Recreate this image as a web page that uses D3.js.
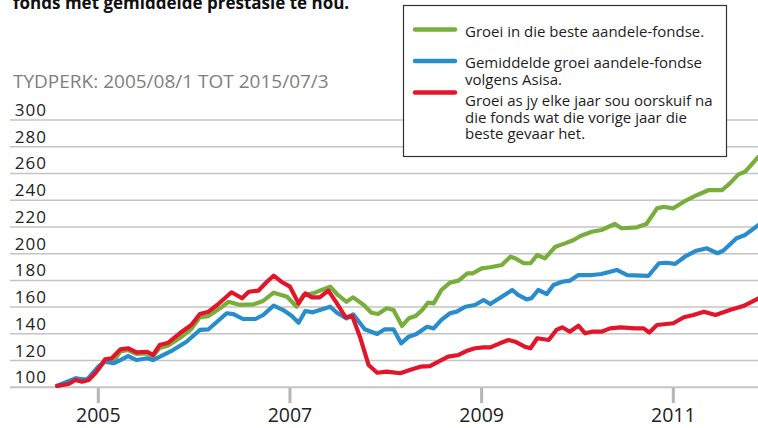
<!DOCTYPE html>
<html>
<head>
<meta charset="utf-8">
<script src="https://cdn.jsdelivr.net/npm/d3@7"></script>
<style>
  body { margin: 0; background: #fff; }
  svg { display: block; }
  text { font-family: "Open Sans", "DejaVu Sans", sans-serif; }
</style>
</head>
<body>
<svg></svg>
<script>
var width = 758;
var height = 428;

// tick labels
var yTicks = [100, 120, 140, 160, 180, 200, 220, 240, 260, 280, 300];
var xTicks = [2005, 2007, 2009, 2011];

// legend
var legendLabels = [
  ["Groei in die beste aandele-fondse."],
  ["Gemiddelde groei aandele-fondse", "volgens Asisa."],
  ["Groei as jy elke jaar sou oorskuif na", "die fonds wat die vorige jaar die", "beste gevaar het."]
];
var colors = ["#79ae3d", "#2a8dcb", "#e1162b"];

// green: best equity funds
var bestYears = [2004.57, 2004.69, 2004.76, 2004.88, 2005.00, 2005.07, 2005.16, 2005.23, 2005.31, 2005.40,
  2005.51, 2005.57, 2005.64, 2005.73, 2005.85, 2005.97, 2006.06, 2006.15, 2006.27, 2006.36,
  2006.48, 2006.62, 2006.72, 2006.83, 2006.97, 2007.07, 2007.14, 2007.24, 2007.33, 2007.42,
  2007.49, 2007.59, 2007.66, 2007.77, 2007.85, 2007.92, 2008.01, 2008.08, 2008.17, 2008.24,
  2008.31, 2008.38, 2008.44, 2008.50, 2008.58, 2008.67, 2008.76, 2008.85, 2008.91, 2009.00,
  2009.09, 2009.21, 2009.30, 2009.35, 2009.44, 2009.51, 2009.58, 2009.66, 2009.77, 2009.87,
  2009.96, 2010.03, 2010.15, 2010.25, 2010.39, 2010.46, 2010.62, 2010.72, 2010.83, 2010.90,
  2011.00, 2011.11, 2011.25, 2011.37, 2011.51, 2011.59, 2011.68, 2011.75, 2011.89];
var bestValues = [101, 103.2, 106.6, 105.5, 113.7, 119.7, 119.7, 126.8, 127.9, 124.9,
  125.3, 123.0, 129.4, 131.3, 136.9, 143.6, 152.4, 153.3, 159.1, 164.0,
  161.6, 162.1, 164.6, 170.8, 167.8, 160.3, 169.1, 170.3, 172.8, 175.3,
  169.8, 164.0, 167.3, 161.6, 155.8, 154.8, 159.1, 157.8, 145.9, 151.6,
  153.3, 157.8, 163.3, 162.8, 172.8, 178.3, 179.8, 185.3, 185.3, 189.0,
  189.8, 191.5, 197.7, 196.5, 192.8, 192.8, 199.0, 196.5, 205.2, 207.7,
  210.2, 213.2, 216.4, 217.7, 222.2, 219.0, 219.7, 222.2, 233.9, 235.1,
  233.9, 238.9, 243.9, 247.6, 247.6, 252.6, 259.3, 261.3, 272.5];

// blue: average equity fund growth (Asisa)
var avgYears = [2004.57, 2004.76, 2004.88, 2005.00, 2005.07, 2005.16, 2005.23, 2005.31, 2005.40, 2005.51,
  2005.57, 2005.68, 2005.78, 2005.92, 2006.06, 2006.15, 2006.34, 2006.41, 2006.51, 2006.64,
  2006.72, 2006.83, 2006.93, 2007.02, 2007.09, 2007.16, 2007.24, 2007.31, 2007.42, 2007.49,
  2007.59, 2007.66, 2007.78, 2007.91, 2007.99, 2008.08, 2008.16, 2008.24, 2008.32, 2008.43,
  2008.50, 2008.58, 2008.67, 2008.74, 2008.83, 2008.93, 2009.02, 2009.09, 2009.21, 2009.32,
  2009.38, 2009.47, 2009.52, 2009.59, 2009.68, 2009.75, 2009.84, 2009.92, 2010.01, 2010.15,
  2010.25, 2010.41, 2010.52, 2010.74, 2010.85, 2010.93, 2011.02, 2011.12, 2011.24, 2011.35,
  2011.46, 2011.52, 2011.66, 2011.75, 2011.89];
var avgValues = [101.2, 106.7, 105.5, 115.4, 119.2, 118.0, 120.4, 123.4, 120.4, 121.7,
  120.4, 124.2, 127.9, 134.1, 142.9, 143.4, 155.4, 154.8, 151.1, 151.1,
  154.1, 161.1, 157.8, 153.3, 148.3, 157.1, 156.1, 157.8, 160.3, 155.8,
  151.6, 154.6, 143.4, 139.9, 143.4, 143.4, 132.9, 137.9, 139.9, 145.3,
  144.1, 150.4, 155.4, 156.6, 160.3, 161.6, 165.3, 162.3, 167.8, 172.8,
  169.1, 165.8, 166.6, 172.8, 169.8, 176.5, 179.0, 179.8, 184.0, 184.0,
  184.8, 187.8, 184.0, 183.3, 192.8, 193.2, 192.3, 197.7, 202.2, 204.0,
  200.3, 202.2, 211.5, 214.0, 221.5];

// red: switching each year to last year's best fund
var switchYears = [2004.57, 2004.69, 2004.76, 2004.83, 2004.90, 2004.97, 2005.02, 2005.07, 2005.14, 2005.23,
  2005.31, 2005.40, 2005.51, 2005.57, 2005.64, 2005.73, 2005.85, 2005.97, 2006.06, 2006.15,
  2006.24, 2006.39, 2006.50, 2006.57, 2006.67, 2006.76, 2006.83, 2006.91, 2007.00, 2007.09,
  2007.16, 2007.23, 2007.31, 2007.40, 2007.49, 2007.58, 2007.65, 2007.73, 2007.82, 2007.91,
  2008.01, 2008.15, 2008.25, 2008.36, 2008.46, 2008.55, 2008.65, 2008.76, 2008.85, 2008.93,
  2009.02, 2009.09, 2009.19, 2009.28, 2009.35, 2009.45, 2009.51, 2009.58, 2009.70, 2009.78,
  2009.84, 2009.92, 2010.01, 2010.08, 2010.15, 2010.25, 2010.34, 2010.45, 2010.60, 2010.69,
  2010.75, 2010.83, 2011.00, 2011.11, 2011.21, 2011.32, 2011.44, 2011.59, 2011.73, 2011.89];
var switchValues = [101, 102.5, 105.5, 104.2, 105.5, 110.7, 115.4, 120.9, 121.7, 128.4,
  129.2, 126.2, 126.6, 124.2, 131.6, 133.4, 140.4, 146.6, 154.8, 156.6,
  161.6, 171.1, 166.6, 171.5, 172.3, 179.0, 183.5, 179.0, 175.3, 162.8,
  170.3, 167.3, 167.3, 172.3, 162.8, 152.4, 153.3, 137.9, 116.7, 110.9,
  111.7, 110.5, 112.9, 115.4, 115.9, 119.2, 122.9, 124.2, 127.4, 129.2,
  129.9, 129.9, 132.9, 135.4, 134.1, 130.4, 129.2, 136.7, 135.4, 142.9,
  144.9, 141.6, 146.1, 140.4, 141.6, 141.6, 144.1, 144.9, 144.1, 144.1,
  141.0, 146.6, 147.9, 152.4, 154.1, 156.6, 154.1, 157.8, 160.8, 166.6];

var series = [
  { years: bestYears, values: bestValues, color: colors[0] },
  { years: avgYears, values: avgValues, color: colors[1] },
  { years: switchYears, values: switchValues, color: colors[2] }
];

var svg = d3.select("svg").attr("width", width).attr("height", height);

var x = d3.scaleLinear().domain([2005, 2011]).range([98.3, 673.3]);
var y = d3.scaleLinear().domain([100, 300]).range([387.3, 120]);

// title line (its first line is cut off above the picture)
svg.append("text")
  .attr("x", 13).attr("y", 9)
  .style("font-size", "17px").style("font-weight", "bold").attr("fill", "#111")
  .text("fonds met gemiddelde prestasie te hou.");

svg.append("text")
  .attr("x", 13).attr("y", 88)
  .style("font-size", "19px").attr("fill", "#7f7f7f")
  .text("TYDPERK: 2005/08/1 TOT 2015/07/3");

// grid
var grid = svg.append("g");
grid.selectAll("line").data(yTicks).enter().append("line")
  .attr("x1", 10).attr("x2", width)
  .attr("y1", function(d) { return y(d); })
  .attr("y2", function(d) { return y(d); })
  .attr("stroke", "#c4c4c4")
  .attr("stroke-width", function(d) { return d === 100 ? 2 : 1.5; });

grid.selectAll("text").data(yTicks).enter().append("text")
  .attr("x", 47)
  .attr("y", function(d) { return y(d) - 4; })
  .attr("text-anchor", "end")
  .style("font-size", "17px").style("letter-spacing", "1px")
  .attr("fill", "#222")
  .text(function(d) { return d; });

// x axis ticks
var xa = svg.append("g");
xa.selectAll("line").data(xTicks).enter().append("line")
  .attr("x1", function(d) { return x(d); })
  .attr("x2", function(d) { return x(d); })
  .attr("y1", 388).attr("y2", 403)
  .attr("stroke", "#b5b5b5").attr("stroke-width", 3);
xa.selectAll("text").data(xTicks).enter().append("text")
  .attr("x", function(d) { return x(d); })
  .attr("y", 422)
  .attr("text-anchor", "middle")
  .style("font-size", "19.5px")
  .attr("fill", "#222")
  .text(function(d) { return d; });

// lines
var line = d3.line()
  .x(function(d) { return x(d[0]); })
  .y(function(d) { return y(d[1]); });

svg.append("g").selectAll("path").data(series).enter().append("path")
  .attr("d", function(s) { return line(d3.zip(s.years, s.values)); })
  .attr("fill", "none")
  .attr("stroke", function(s) { return s.color; })
  .attr("stroke-width", 4.2)
  .attr("stroke-linejoin", "round")
  .attr("stroke-linecap", "round");

// legend
var lg = svg.append("g");
lg.append("rect")
  .attr("x", 403.5).attr("y", 5.5).attr("width", 323).attr("height", 151)
  .attr("fill", "#fff").attr("stroke", "#333").attr("stroke-width", 1.2);

var swatchY = [29.5, 61, 92.5];
var textY = [37, 68, 106];
var lineGap = 16.7;

lg.selectAll("line").data(colors).enter().append("line")
  .attr("x1", 415).attr("x2", 455)
  .attr("y1", function(d, i) { return swatchY[i]; })
  .attr("y2", function(d, i) { return swatchY[i]; })
  .attr("stroke", function(d) { return d; })
  .attr("stroke-width", 4.5)
  .attr("stroke-linecap", "round");

legendLabels.forEach(function(lines, i) {
  lines.forEach(function(t, j) {
    lg.append("text")
      .attr("x", 465)
      .attr("y", textY[i] + j * lineGap)
      .style("font-size", "15px")
      .attr("fill", "#1e1e1e")
      .text(t);
  });
});
</script>
</body>
</html>
